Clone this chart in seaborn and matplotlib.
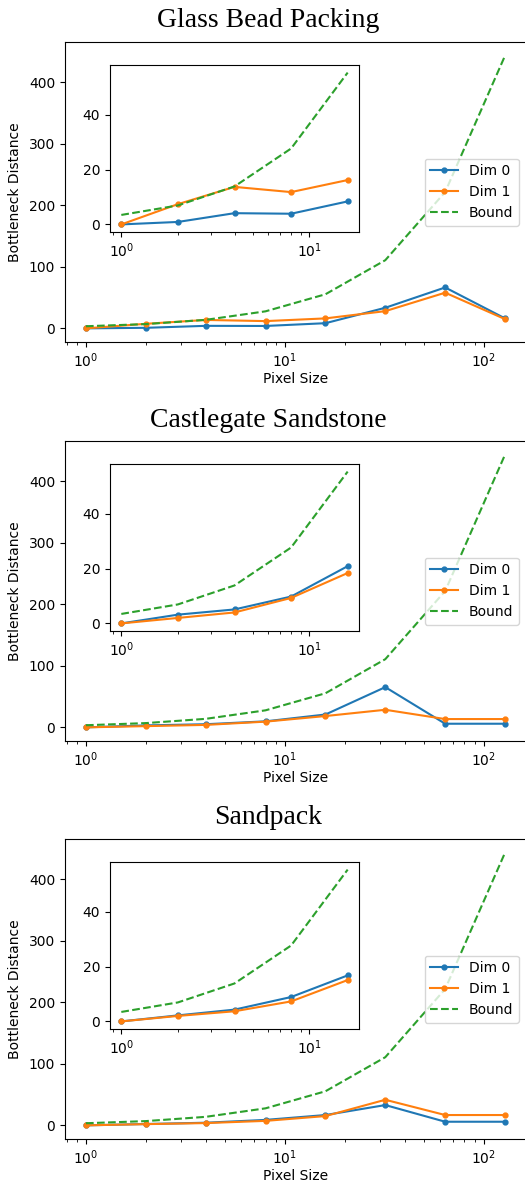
import matplotlib
matplotlib.use("Agg")
import matplotlib.pyplot as plt
import seaborn as sns
import pandas as pd

pixel_sizes = [1, 2, 4, 8, 16, 32, 64, 128]
bound = [3.46, 6.93, 13.86, 27.71, 55.43, 110.85, 221.7, 443.4]

titles = ["Glass Bead Packing", "Castlegate Sandstone", "Sandpack"]

glass_dim0 = [0.0, 0.9, 4.1, 3.9, 8.4, 33.5, 66.5, 16.2]
glass_dim1 = [0.0, 7.4, 13.7, 11.8, 16.2, 28.0, 58.0, 15.0]

castle_dim0 = [0.0, 3.2, 5.1, 9.8, 20.9, 65.4, 5.9, 5.9]
castle_dim1 = [0.0, 2.0, 4.0, 9.3, 18.4, 28.6, 13.5, 13.5]

sand_dim0 = [0.0, 2.2, 4.3, 8.9, 16.8, 33.0, 5.9, 5.9]
sand_dim1 = [0.0, 2.0, 3.7, 7.3, 15.1, 41.6, 16.8, 16.8]

datasets = [(glass_dim0, glass_dim1), (castle_dim0, castle_dim1), (sand_dim0, sand_dim1)]
n_inset = 5

fig = plt.figure(figsize=(5.25, 11.84), dpi=100)
W, H = 525.0, 1184.0

axes_tops = [42, 441, 839]
title_baselines = [27, 427, 824]

def draw(ax, d0, d1, n=None, legend=False):
    xs = pixel_sizes if n is None else pixel_sizes[:n]
    a = d0 if n is None else d0[:n]
    b = d1 if n is None else d1[:n]
    c = bound if n is None else bound[:n]
    sns.lineplot(x=xs, y=a, ax=ax, color="C0", marker=".", markersize=7,
                 markeredgecolor="C0", markeredgewidth=1, label="Dim 0" if legend else None, legend=False)
    sns.lineplot(x=xs, y=b, ax=ax, color="C1", marker=".", markersize=7,
                 markeredgecolor="C1", markeredgewidth=1, label="Dim 1" if legend else None, legend=False)
    sns.lineplot(x=xs, y=c, ax=ax, color="C2", linestyle="--",
                 label="Bound" if legend else None, legend=False)
    ax.set_xscale("log")

for i, (d0, d1) in enumerate(datasets):
    top = axes_tops[i]
    ax = fig.add_axes([65 / W, 1 - (top + 300) / H, 461 / W, 300 / H])
    draw(ax, d0, d1, legend=True)
    ax.set_xlabel("Pixel Size", labelpad=1.0)
    ax.set_ylabel("Bottleneck Distance", labelpad=5.0)
    ax.set_yticks([0, 100, 200, 300, 400])
    ax.legend(loc="center right")
    fig.text(268 / W, 1 - title_baselines[i] / H, titles[i], ha="center", va="baseline",
             fontsize=20, family="Liberation Serif")

    ins = fig.add_axes([110 / W, 1 - (top + 190) / H, 249 / W, 167 / H])
    draw(ins, d0, d1, n=n_inset)
    ins.set_yticks([0, 20, 40])
    ins.set_xlabel("")
    ins.set_ylabel("")

fig.savefig("out.png", dpi=100)
